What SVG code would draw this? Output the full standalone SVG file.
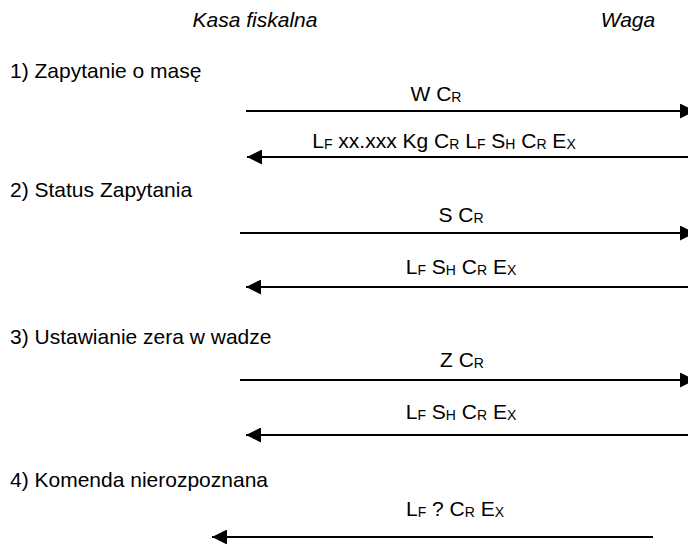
<svg xmlns="http://www.w3.org/2000/svg" width="688" height="544" viewBox="0 0 688 544">
<style>
text{font-family:"Liberation Sans",Arial,sans-serif;font-size:21px;fill:#000}
.hdr{font-style:italic}
.lbl{text-anchor:middle}
.s{font-size:14px}
.ln{stroke:#000;stroke-width:2;fill:none}
</style>
<defs>
<marker id="ah" viewBox="0 0 15 15" refX="15" refY="7.5" markerWidth="15" markerHeight="15" markerUnits="userSpaceOnUse" orient="auto">
<path d="M0,0 L15,7.5 L0,15 Z" fill="#000"/>
</marker>
</defs>
<rect width="688" height="544" fill="#fff"/>
<g id="participants">
<text class="hdr" x="255" y="27" text-anchor="middle">Kasa fiskalna</text>
<text class="hdr" x="628" y="27" text-anchor="middle">Waga</text>
</g>
<g id="sections">
<text x="10" y="78">1) Zapytanie o masę</text>
<text x="10" y="197">2) Status Zapytania</text>
<text x="10" y="344">3) Ustawianie zera w wadze</text>
<text x="10" y="487">4) Komenda nierozpoznana</text>
</g>
<g id="connectors">
<line class="ln" x1="246" y1="111" x2="695" y2="111" marker-end="url(#ah)"/>
<line class="ln" x1="688" y1="157" x2="247" y2="157" marker-end="url(#ah)"/>
<line class="ln" x1="240" y1="233" x2="695" y2="233" marker-end="url(#ah)"/>
<line class="ln" x1="688" y1="287" x2="246" y2="287" marker-end="url(#ah)"/>
<line class="ln" x1="240" y1="380" x2="695" y2="380" marker-end="url(#ah)"/>
<line class="ln" x1="688" y1="435" x2="246" y2="435" marker-end="url(#ah)"/>
<line class="ln" x1="653" y1="537" x2="212" y2="537" marker-end="url(#ah)"/>
</g>
<g id="labels">
<text class="lbl" x="436" y="101">W C<tspan class="s" dy="1">R</tspan></text>
<text class="lbl" x="444" y="148">L<tspan class="s" dy="1">F</tspan><tspan dy="-1"> xx.xxx Kg C</tspan><tspan class="s" dy="1">R</tspan><tspan dy="-1"> L</tspan><tspan class="s" dy="1">F</tspan><tspan dy="-1"> S</tspan><tspan class="s" dy="1">H</tspan><tspan dy="-1"> C</tspan><tspan class="s" dy="1">R</tspan><tspan dy="-1"> E</tspan><tspan class="s" dy="1">X</tspan></text>
<text class="lbl" x="461" y="222">S C<tspan class="s" dy="1">R</tspan></text>
<text class="lbl" x="461" y="274">L<tspan class="s" dy="1">F</tspan><tspan dy="-1"> S</tspan><tspan class="s" dy="1">H</tspan><tspan dy="-1"> C</tspan><tspan class="s" dy="1">R</tspan><tspan dy="-1"> E</tspan><tspan class="s" dy="1">X</tspan></text>
<text class="lbl" x="462" y="367">Z C<tspan class="s" dy="1">R</tspan></text>
<text class="lbl" x="461" y="419">L<tspan class="s" dy="1">F</tspan><tspan dy="-1"> S</tspan><tspan class="s" dy="1">H</tspan><tspan dy="-1"> C</tspan><tspan class="s" dy="1">R</tspan><tspan dy="-1"> E</tspan><tspan class="s" dy="1">X</tspan></text>
<text class="lbl" x="455" y="516">L<tspan class="s" dy="1">F</tspan><tspan dy="-1"> ? C</tspan><tspan class="s" dy="1">R</tspan><tspan dy="-1"> E</tspan><tspan class="s" dy="1">X</tspan></text>
</g>
</svg>
